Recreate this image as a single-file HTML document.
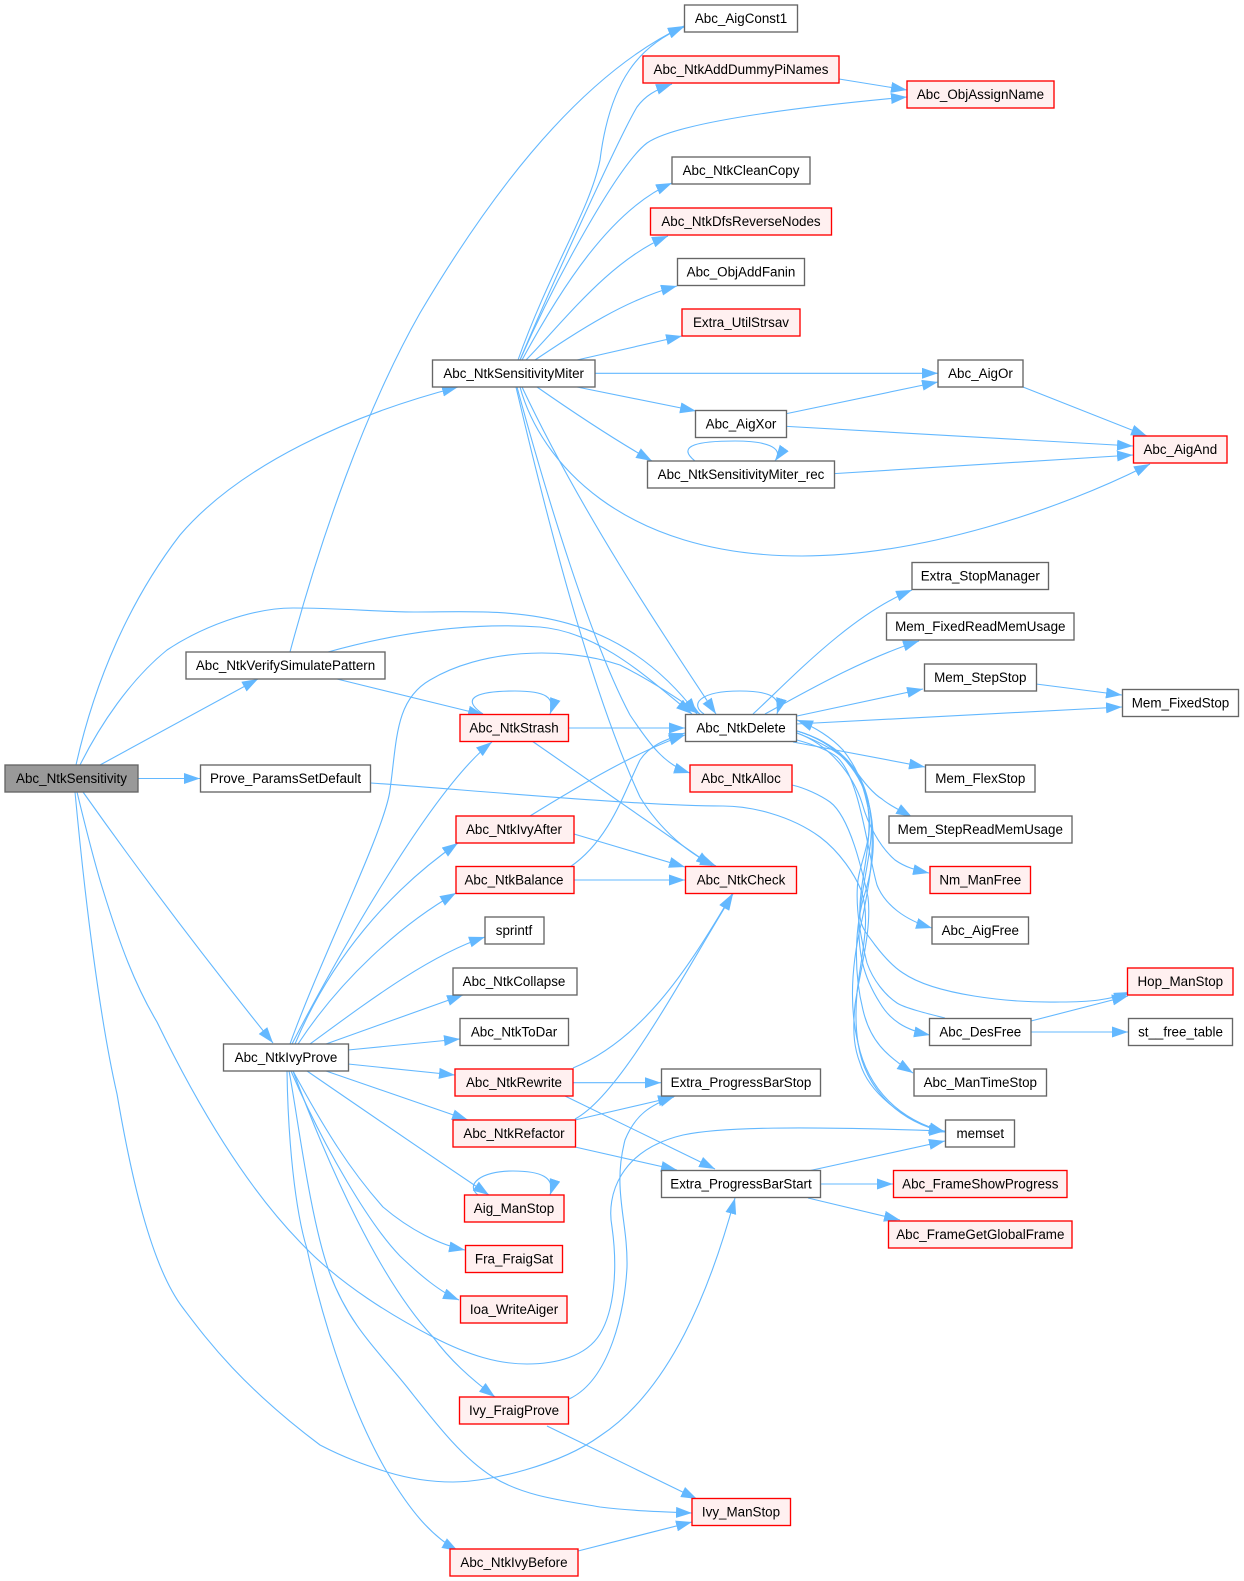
<!DOCTYPE html>
<html><head><meta charset="utf-8"><title>Abc_NtkSensitivity call graph</title>
<style>
html,body{margin:0;padding:0;background:#fff}
svg{display:block}
.e path{fill:none;stroke:#63b8ff;stroke-width:1.1;marker-end:url(#a)}
.n rect{fill:#fff;stroke:#666;stroke-width:1.35}
.r rect{fill:#fff0f0;stroke:#f00;stroke-width:1.35}
.t rect{fill:#999;stroke:#666;stroke-width:1.35}
text{font-family:"Liberation Sans",Arial,sans-serif;font-size:13.4px;fill:#000;text-anchor:middle}
</style></head><body>
<svg xmlns="http://www.w3.org/2000/svg" width="1244" height="1581" viewBox="0 0 1244 1581">
<defs><marker id="a" markerUnits="userSpaceOnUse" markerWidth="17" markerHeight="12" refX="16" refY="5.500" orient="auto"><path d="M0,0L16,5.500L0,11Z" fill="#63b8ff"/></marker></defs>
<g class="e">
<!-- Sensitivity -->
<path d="M76,765C95,680 130,600 180,535C240,465 350,415 458,387"/>
<path d="M80,765C100,725 130,680 167,650C200,628 250,608 293,608C340,608 380,612 417,612C500,612 610,600 697,714"/>
<path d="M100,765L258,679"/>
<path d="M138,778.5H200"/>
<path d="M83,792Q170,915 273,1043"/>
<path d="M77,792C85,825 95,865 103,890C120,945 135,985 157,1022C190,1090 240,1180 300,1242C340,1285 396,1318 433,1337C470,1356 499,1364 527,1364C555,1364 586,1357 600,1334C614,1311 618,1270 612,1227C606,1195 620,1150 683,1135C720,1127 800,1126 945,1131"/>
<path d="M75,792C85,900 100,1020 117,1094C130,1170 150,1265 183,1308C205,1337 240,1385 320,1445C345,1458 365,1465 387,1472C410,1479 430,1482 453,1482C490,1482 560,1465 600,1436C670,1390 710,1290 735,1198"/>
<!-- Verify -->
<path d="M290,652C320,540 365,410 420,313C478,215 570,80 684,26"/>
<path d="M328,652C400,632 470,622 540,627C600,632 650,680 692,714"/>
<path d="M337,679L484,715"/>
<!-- Prove -->
<path d="M371,783C470,790 640,806 723,806C750,806 790,815 820,837C840,852 855,875 861,890C872,920 860,960 857,993C855,1015 856,1030 858,1043C865,1090 900,1122 945,1132"/>
<!-- Miter -->
<path d="M518,360C550,270 590,210 600,160C610,80 640,45 684,27"/>
<path d="M520,360C545,300 620,135 637,107C645,96 655,90 672,84"/>
<path d="M520,360C555,280 618,165 647,143C680,120 820,105 907,97"/>
<path d="M522,360C560,290 610,210 672,183"/>
<path d="M526,360C565,320 610,260 668,236"/>
<path d="M535,360C580,330 625,300 677,286"/>
<path d="M577,360L682,336"/>
<path d="M595,373.3H938"/>
<path d="M577,387L696,411"/>
<path d="M537,387C570,410 615,440 652,461"/>
<path d="M520,387C540,460 620,556 802,556C920,556 1060,510 1150,464"/>
<path d="M522,387C580,510 660,630 716,714"/>
<path d="M517,387C545,490 590,640 630,715C650,745 665,765 690,773"/>
<path d="M516,387C545,510 590,690 640,797C660,830 690,855 716,866"/>
<!-- Col 4/5 upper -->
<path d="M839,79L907,90"/>
<path d="M780,415L938,382"/>
<path d="M780,426L1133,446"/>
<path d="M1023,387L1147,436"/>
<path d="M828,474L1133,455"/>
<path d="M695,461C675,445 700,441 735,441C765,441 785,447 775,461"/>
<!-- Delete -->
<path d="M704,714C690,705 698,691 740,691C770,691 782,697 777,714"/>
<path d="M753,714C790,680 850,615 912,590"/>
<path d="M765,714C800,695 860,660 919,641"/>
<path d="M797,716L923,689"/>
<path d="M796,724L1122,707"/>
<path d="M793,742L925,767"/>
<path d="M797,733C820,742 840,752 853,767C862,780 872,793 882,799C890,806 900,810 912,817"/>
<path d="M797,733C830,745 853,775 862,803C868,825 880,847 895,860C905,867 915,870 929,873"/>
<path d="M797,740C815,745 828,750 837,757C860,778 867,850 877,885C885,905 905,920 932,928"/>
<path d="M797,731C835,742 860,770 866,795C876,840 858,880 860,917C862,930 868,935 875,945C885,958 895,968 903,973C935,995 1010,1003 1060,1002C1090,1002 1110,1000 1130,992"/>
<path d="M797,731C835,742 862,770 870,810C876,840 862,880 859,920C858,950 862,975 880,1003C890,1020 905,1030 930,1035"/>
<path d="M797,731C835,742 860,770 868,800C878,840 872,870 865,893C855,925 853,970 863,1010C870,1040 885,1055 913,1073"/>
<path d="M797,731C835,742 860,765 868,800C878,845 868,890 862,920C850,970 850,1010 858,1043C868,1090 900,1120 945,1132"/>
<path d="M945,1018C925,1013 905,1008 897,1003C885,995 873,980 867,963C860,935 855,905 858,880C862,855 875,835 867,803C862,780 855,765 843,750C832,738 815,727 797,720"/>
<path d="M1031,1021L1128,996"/>
<path d="M1031,1032H1128"/>
<path d="M792,785C805,788 820,795 830,802C850,817 862,870 868,897C872,930 860,970 855,1005C852,1035 855,1050 860,1063C868,1090 900,1120 945,1132"/>
<path d="M1036,684L1122,695"/>
<!-- Strash etc -->
<path d="M483,714C458,697 480,691 515,691C545,691 556,697 550,714"/>
<path d="M569,728H685"/>
<path d="M532,741L712,866"/>
<path d="M530,816C580,785 640,750 685,735"/>
<path d="M574,834L685,867"/>
<path d="M570,867C610,840 625,790 640,760C650,745 665,740 685,733"/>
<path d="M574,880H685"/>
<!-- IvyProve -->
<path d="M290,1044C320,960 385,830 390,790C397,740 395,700 430,680C480,650 560,645 620,665C650,680 680,700 700,714"/>
<path d="M292,1044C330,970 430,790 492,742"/>
<path d="M295,1044C330,960 390,890 458,843"/>
<path d="M298,1044C340,980 400,925 456,893"/>
<path d="M310,1044C370,1000 430,955 485,937"/>
<path d="M326,1044L463,995"/>
<path d="M348,1050L460,1039"/>
<path d="M348,1064L455,1075"/>
<path d="M326,1071L468,1120"/>
<path d="M307,1071Q400,1135 489,1195"/>
<path d="M293,1071C325,1130 350,1170 383,1207C410,1230 440,1245 465,1250"/>
<path d="M291,1071C325,1150 370,1225 400,1256C420,1275 440,1292 459,1300"/>
<path d="M293,1071C330,1170 380,1280 433,1337C450,1360 470,1378 495,1397"/>
<path d="M289,1071C296,1105 310,1221 330,1274C350,1327 380,1353 407,1387C434,1421 461,1457 493,1477C525,1497 567,1501 600,1507C633,1511 665,1512 692,1513"/>
<path d="M287,1071C288,1140 295,1210 307,1249C318,1300 345,1400 387,1472C410,1510 430,1535 458,1551"/>
<path d="M478,1195C465,1185 480,1171 513,1171C540,1171 556,1177 550,1195"/>
<!-- Rewrite / Refactor -->
<path d="M573,1068C640,1040 685,975 732,894"/>
<path d="M575,1119C620,1095 680,980 733,894"/>
<path d="M573,1082.7H661"/>
<path d="M565,1096L715,1169"/>
<path d="M575,1120L674,1097"/>
<path d="M575,1147L677,1170"/>
<path d="M569,1399C610,1380 625,1310 627,1267C628,1220 612,1190 625,1140C635,1115 650,1105 675,1096"/>
<path d="M547,1426L697,1499"/>
<path d="M578,1551L692,1522"/>
<!-- Start -->
<path d="M808,1171L945,1141"/>
<path d="M820,1184H893"/>
<path d="M808,1198L900,1220"/>
</g>
<g class="t"><rect x="5" y="765" width="133" height="27"/><text x="71.5" y="783">Abc_NtkSensitivity</text></g>
<g class="n">
<rect x="186" y="652" width="199" height="27"/><text x="285.5" y="670">Abc_NtkVerifySimulatePattern</text>
<rect x="200.500" y="765" width="170" height="27"/><text x="285.5" y="783">Prove_ParamsSetDefault</text>
<rect x="223.500" y="1044" width="125" height="27"/><text x="286" y="1062">Abc_NtkIvyProve</text>
<rect x="432.500" y="360" width="162.500" height="27"/><text x="513.7" y="378">Abc_NtkSensitivityMiter</text>
<rect x="684.500" y="5" width="113" height="27"/><text x="741" y="23">Abc_AigConst1</text>
<rect x="672" y="157" width="138" height="27"/><text x="741" y="175">Abc_NtkCleanCopy</text>
<rect x="677.500" y="258.500" width="127" height="27"/><text x="741" y="276.500">Abc_ObjAddFanin</text>
<rect x="695.500" y="410.500" width="91" height="27"/><text x="741" y="428.500">Abc_AigXor</text>
<rect x="647.500" y="461" width="187" height="27"/><text x="741" y="479">Abc_NtkSensitivityMiter_rec</text>
<rect x="685.500" y="714.500" width="111" height="27"/><text x="741" y="732.500">Abc_NtkDelete</text>
<rect x="661.500" y="1069" width="159" height="27"/><text x="741" y="1087">Extra_ProgressBarStop</text>
<rect x="661.500" y="1170.500" width="159" height="27"/><text x="741" y="1188.500">Extra_ProgressBarStart</text>
<rect x="938" y="360" width="85" height="27"/><text x="980.500" y="378">Abc_AigOr</text>
<rect x="912" y="562.500" width="136.500" height="27"/><text x="980.300" y="580.500">Extra_StopManager</text>
<rect x="886.500" y="613" width="187.500" height="27"/><text x="980.300" y="631">Mem_FixedReadMemUsage</text>
<rect x="924.500" y="664" width="112" height="27"/><text x="980.300" y="682">Mem_StepStop</text>
<rect x="925.500" y="765" width="109.500" height="27"/><text x="980.300" y="783">Mem_FlexStop</text>
<rect x="889" y="816" width="183" height="27"/><text x="980.300" y="834">Mem_StepReadMemUsage</text>
<rect x="932" y="917" width="96.500" height="27"/><text x="980.300" y="935">Abc_AigFree</text>
<rect x="929.500" y="1018.500" width="101.500" height="27"/><text x="980.300" y="1036.500">Abc_DesFree</text>
<rect x="914" y="1069" width="132.500" height="27"/><text x="980.300" y="1087">Abc_ManTimeStop</text>
<rect x="945.500" y="1120" width="69" height="27"/><text x="980.300" y="1138">memset</text>
<rect x="1122.500" y="689.500" width="116" height="27"/><text x="1180.500" y="707.500">Mem_FixedStop</text>
<rect x="1128.500" y="1018.500" width="104" height="27"/><text x="1180.500" y="1036.500">st__free_table</text>
<rect x="485" y="917" width="59" height="27"/><text x="514" y="935">sprintf</text>
<rect x="453" y="968" width="124" height="27"/><text x="514" y="986">Abc_NtkCollapse</text>
<rect x="460" y="1018.500" width="108.500" height="27"/><text x="514" y="1036.500">Abc_NtkToDar</text>
</g>
<g class="r">
<rect x="643" y="56" width="196" height="27"/><text x="741" y="74">Abc_NtkAddDummyPiNames</text>
<rect x="907" y="81" width="147" height="27"/><text x="980.500" y="99">Abc_ObjAssignName</text>
<rect x="650.500" y="208" width="181" height="27"/><text x="741" y="226">Abc_NtkDfsReverseNodes</text>
<rect x="682" y="309" width="118" height="27"/><text x="741" y="327">Extra_UtilStrsav</text>
<rect x="1133.500" y="436" width="93.500" height="27"/><text x="1180.300" y="454">Abc_AigAnd</text>
<rect x="690" y="765" width="102" height="27"/><text x="741" y="783">Abc_NtkAlloc</text>
<rect x="685.500" y="866.500" width="111" height="27"/><text x="741" y="884.500">Abc_NtkCheck</text>
<rect x="692" y="1498.500" width="98.500" height="27"/><text x="741" y="1516.500">Ivy_ManStop</text>
<rect x="930" y="866.500" width="100.500" height="27"/><text x="980.300" y="884.500">Nm_ManFree</text>
<rect x="893.500" y="1170.500" width="173.500" height="27"/><text x="980.300" y="1188.500">Abc_FrameShowProgress</text>
<rect x="888.500" y="1221" width="183.500" height="27"/><text x="980.300" y="1239">Abc_FrameGetGlobalFrame</text>
<rect x="1127.500" y="968" width="105.500" height="27"/><text x="1180.300" y="986">Hop_ManStop</text>
<rect x="460" y="714.500" width="108.500" height="27"/><text x="514" y="732.500">Abc_NtkStrash</text>
<rect x="456" y="816" width="118" height="27"/><text x="514" y="834">Abc_NtkIvyAfter</text>
<rect x="456" y="866.500" width="118" height="27"/><text x="514" y="884.500">Abc_NtkBalance</text>
<rect x="455" y="1069" width="118" height="27"/><text x="514" y="1087">Abc_NtkRewrite</text>
<rect x="453" y="1120" width="122.500" height="27"/><text x="514" y="1138">Abc_NtkRefactor</text>
<rect x="464.500" y="1195" width="99.500" height="27"/><text x="514" y="1213">Aig_ManStop</text>
<rect x="465.500" y="1245.500" width="97" height="27"/><text x="514" y="1263.500">Fra_FraigSat</text>
<rect x="460.500" y="1296" width="106.500" height="27"/><text x="514" y="1314">Ioa_WriteAiger</text>
<rect x="459.500" y="1397" width="109" height="27"/><text x="514" y="1415">Ivy_FraigProve</text>
<rect x="450" y="1549" width="128" height="27"/><text x="514" y="1567">Abc_NtkIvyBefore</text>
</g>
</svg>
</body></html>
